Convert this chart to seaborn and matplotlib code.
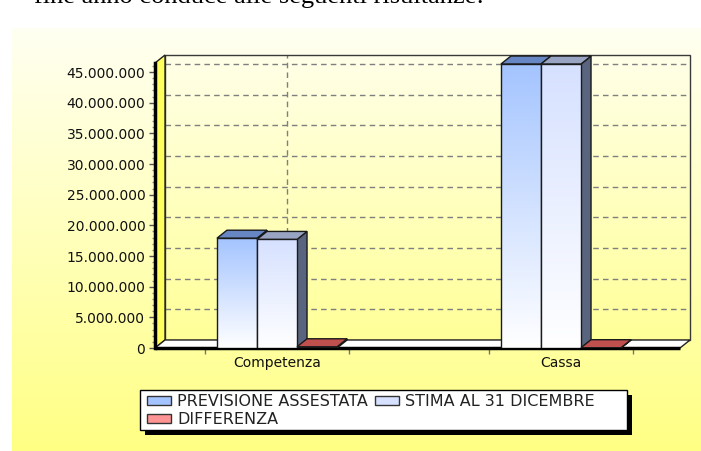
"""Grafico a barre 3D: previsione assestata vs stima al 31 dicembre."""

import matplotlib
matplotlib.use("Agg")
import matplotlib.pyplot as plt
import numpy as np
import pandas as pd
import seaborn as sns
from matplotlib.colors import LinearSegmentedColormap
from matplotlib.patches import Patch, Polygon, Rectangle
from matplotlib.ticker import FixedLocator

# --- dati ---
categorie = ["Competenza", "Cassa"]
serie = ["PREVISIONE ASSESTATA", "STIMA AL 31 DICEMBRE", "DIFFERENZA"]
previsione = [17_900_000, 46_300_000]
stima = [17_700_000, 46_300_000]
differenza = [200_000, 50_000]
y_ticks = list(range(0, 45_000_001, 5_000_000))
frase = "fine anno conduce alle seguenti risultanze:"

df = pd.DataFrame({
    "categoria": categorie * len(serie),
    "serie": [s for s in serie for _ in categorie],
    "valore": previsione + stima + differenza,
})

# colori: faccia frontale (in alto), faccia superiore, fianco
front_col = ["#a4c4ff", "#d6e1ff", "#ff9494"]
top_col = ["#6687c4", "#98a4c2", "#c0504d"]
side_col = ["#4a5f8f", "#59647e", "#8a3030"]
edge = "#1a1a1a"

W, H = 701, 451
fig = plt.figure(figsize=(W / 100, H / 100), dpi=100)
fig.patch.set_facecolor("white")

grad = np.linspace(0, 1, 256).reshape(-1, 1)

# sfondo giallo sfumato
bg = fig.add_axes([12 / W, 0, 1 - 12 / W, (H - 28) / H])
bg.imshow(grad, cmap=LinearSegmentedColormap.from_list("bg", ["#fffff2", "#ffff84"]),
          aspect="auto", extent=[0, 1, 0, 1], origin="upper")
bg.set_axis_off()

# geometria in pixel
X0_PX, PX_UNIT = 277, 284
Y0_PX, PX_PER_VAL = 348, 276 / 45e6
L_PX, R_PX, T_PX = 155, 690, 55

ax = fig.add_axes([L_PX / W, 1 - Y0_PX / H, (R_PX - L_PX) / W, (Y0_PX - T_PX) / H])
ax.patch.set_alpha(0)
xmin = (L_PX - X0_PX) / PX_UNIT
xmax = (R_PX - X0_PX) / PX_UNIT
ymax = (Y0_PX - T_PX) / PX_PER_VAL
DX = 10 / PX_UNIT
DY = 8 / PX_PER_VAL
x_front_r = xmax - DX
y_front_t = ymax - DY

before = set(ax.patches)
sns.barplot(data=df, x="categoria", y="valore", hue="serie", order=categorie,
            hue_order=serie, palette=front_col, width=3 * 0.141, gap=0,
            saturation=1, errorbar=None, edgecolor=edge, linewidth=1,
            legend=False, ax=ax)
bars = [p for p in ax.patches if p not in before]
bar_serie = [i // len(categorie) for i in range(len(bars))]

# parete di fondo
ax.imshow(grad, cmap=LinearSegmentedColormap.from_list("wall", ["#ffffe8", "#ffff98"]),
          extent=[xmin + DX, xmax, DY, ymax], aspect="auto", origin="upper", zorder=0)
ax.hlines([v + DY for v in y_ticks[1:]], xmin + DX, xmax, colors="#7f7f7f",
          linestyles=(0, (4, 3)), lw=1, zorder=1)
ax.vlines([i + DX for i in range(len(categorie))], DY, ymax, colors="#7f7f7f",
          linestyles=(0, (4, 3)), lw=1, zorder=1)
ax.add_patch(Rectangle((xmin + DX, DY), xmax - xmin - DX, ymax - DY, fill=False,
                       ec="#3a3a3a", lw=1, zorder=1.5, clip_on=False))

# parete sinistra e pavimento
ax.add_patch(Polygon([(xmin, 0), (xmin + DX, DY), (xmin + DX, ymax), (xmin, y_front_t)],
                     fc="#ffff5e", ec="#222222", lw=1, zorder=2, clip_on=False))
ax.add_patch(Polygon([(xmin, 0), (x_front_r, 0), (xmax, DY), (xmin + DX, DY)],
                     fc="white", ec="#222222", lw=1, zorder=2, clip_on=False))
ax.plot([xmin, x_front_r], [0, 0], color="black", lw=2.5, zorder=2.5,
        clip_on=False, solid_capstyle="butt")

# barre 3D: fianco, tetto e faccia sfumata
pairs = sorted(zip(bars, bar_serie), key=lambda t: t[0].get_x())
for k, (p, s) in enumerate(pairs):
    x0, w, h = p.get_x(), p.get_width(), p.get_height()
    x1 = x0 + w
    z = 4 + 2 * k
    ax.add_patch(Polygon([(x1, 0), (x1 + DX, DY), (x1 + DX, h + DY), (x1, h)],
                         fc=side_col[s], ec=edge, lw=1, zorder=z - 1))
    ax.add_patch(Polygon([(x0, h), (x1, h), (x1 + DX, h + DY), (x0 + DX, h + DY)],
                         fc=top_col[s], ec=edge, lw=1, zorder=z - 1))
    cmap = LinearSegmentedColormap.from_list(f"b{k}", [front_col[s], "#ffffff"])
    im = ax.imshow(grad, cmap=cmap, extent=[x0, x1, 0, h], aspect="auto",
                   origin="upper", zorder=z - 0.5)
    im.set_clip_path(p)
    p.set_facecolor("none")
    p.set_zorder(z)

ax.set_xlim(xmin, xmax)
ax.set_ylim(0, ymax)

# assi
ax.set_yticks(y_ticks)
ax.set_yticklabels([f"{v:,}".replace(",", ".") for v in y_ticks])
ax.yaxis.set_minor_locator(FixedLocator(
    [v for v in range(1_000_000, 46_000_001, 1_000_000) if v % 5_000_000]))
ax.tick_params(axis="y", which="major", length=4, width=1, color="#555555",
               pad=3, labelsize=10, labelcolor="#111111")
ax.tick_params(axis="y", which="minor", length=2, width=1, color="#8a8a8a")
ax.set_xticks(range(len(categorie)))
ax.set_xticklabels(categorie)
ax.xaxis.set_minor_locator(FixedLocator(
    [c + d for c in range(len(categorie)) for d in (-0.254, 0.254)]))
ax.tick_params(axis="x", which="major", length=0, pad=6, labelsize=10,
               labelcolor="#111111")
ax.tick_params(axis="x", which="minor", length=4, width=1, color="#777777")
ax.set_xlabel("")
ax.set_ylabel("")
for side in ["top", "right", "bottom"]:
    ax.spines[side].set_visible(False)
ax.spines["left"].set_bounds(0, y_front_t)
ax.spines["left"].set_linewidth(2.5)
ax.spines["left"].set_color("black")

# legenda con ombra
fig.add_artist(Rectangle((145 / W, 1 - 435 / H), 487 / W, 40 / H,
                         transform=fig.transFigure, fc="black", ec="none", zorder=1))
fig.add_artist(Rectangle((140 / W, 1 - 430 / H), 487 / W, 40 / H,
                         transform=fig.transFigure, fc="white", ec="black", lw=1, zorder=1.1))
handles = [Patch(fc=front_col[i], ec="#333333", lw=1, label=serie[i]) for i in range(3)]
leg = fig.legend(handles=[handles[i] for i in (0, 2, 1)], ncol=2, loc="upper left",
                 bbox_to_anchor=(147 / W, 1 - 394 / H), frameon=False, fontsize=11.5,
                 handlelength=1.5, handleheight=0.55, handletextpad=0.38,
                 columnspacing=0.45, labelspacing=0.2, borderpad=0, borderaxespad=0)
for t in leg.get_texts():
    t.set_color("#222222")

fig.text(484 / W, 1 - 2.5 / H, frase, ha="right", va="baseline", fontsize=19,
         family="Liberation Serif", color="black")

fig.savefig("out.png", dpi=100)
plt.close(fig)
